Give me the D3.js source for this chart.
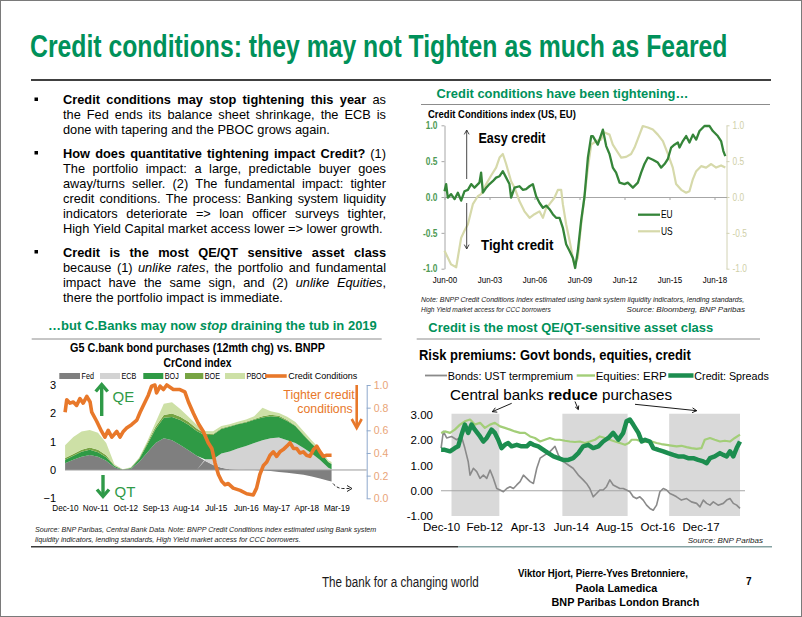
<!DOCTYPE html>
<html><head><meta charset="utf-8">
<script src="https://cdn.jsdelivr.net/npm/d3@7"></script>
<style>
body{margin:0;background:#fff}
svg{display:block}
text{font-family:"Liberation Sans",Arial,sans-serif}
</style></head><body>
<svg id="c" width="802" height="617"></svg>
<script>
// ================= DATA =================
// Left text
const bulletParas = [
  ["*Credit conditions may stop tightening this year* as",
   "the Fed ends its balance sheet shrinkage, the ECB is",
   "done with tapering and the PBOC grows again."],
  ["*How does quantitative tightening impact Credit?* (1)",
   "The portfolio impact: a large, predictable buyer goes",
   "away/turns seller. (2) The fundamental impact: tighter",
   "credit conditions. The process: Banking system liquidity",
   "indicators deteriorate => loan officer surveys tighter,",
   "High Yield Capital market access lower => lower growth."],
  ["*Credit is the most QE/QT sensitive asset class*",
   "because (1) _unlike rates_, the portfolio and fundamental",
   "impact have the same sign, and (2) _unlike Equities_,",
   "there the portfolio impact is immediate."]
];

// Top-right: Credit Conditions index (US, EU)
const trTickLabels = ["Jun-00","Jun-03","Jun-06","Jun-09","Jun-12","Jun-15","Jun-18"];
const trTickYears = [2000.5,2003.5,2006.5,2009.5,2012.5,2015.5,2018.5];
const trYTicks = [-1,-0.5,0,0.5,1];
const usSeries = [[2000.5,-0.75],[2000.94,-0.94],[2001.28,-0.98],[2001.61,-0.57],[2001.83,-0.47],[2002.06,-0.38],[2002.39,-0.10],[2002.72,0.01],[2002.94,0.04],[2003.28,0.18],[2003.61,0.30],[2003.94,0.41],[2004.17,0.55],[2004.39,0.60],[2004.61,0.46],[2004.94,0.22],[2005.17,0.13],[2005.5,-0.06],[2005.83,-0.20],[2006.17,-0.29],[2006.5,-0.24],[2006.83,-0.20],[2007.06,-0.29],[2007.28,-0.15],[2007.5,-0.10],[2007.83,-0.01],[2008.06,0.10],[2008.28,0.10],[2008.39,-0.10],[2008.61,-0.38],[2008.83,-0.60],[2009.06,-0.85],[2009.17,-0.94],[2009.39,-0.85],[2009.61,-0.38],[2009.83,0.00],[2010.06,0.41],[2010.28,0.73],[2010.61,0.78],[2010.94,0.80],[2011.17,0.90],[2011.5,0.87],[2011.72,0.73],[2012.06,0.62],[2012.28,0.55],[2012.61,0.56],[2012.94,0.60],[2013.17,0.69],[2013.5,0.87],[2013.72,0.99],[2014.06,0.97],[2014.39,0.94],[2014.72,0.87],[2015.06,0.78],[2015.39,0.60],[2015.72,0.41],[2015.94,0.18],[2016.28,0.10],[2016.61,0.06],[2016.83,0.08],[2017.06,0.25],[2017.28,0.36],[2017.61,0.43],[2017.94,0.41],[2018.28,0.46],[2018.61,0.41],[2018.94,0.44],[2019.22,0.41]];
const euSeries = [[2000.5,0.08],[2000.61,0.18],[2000.72,-0.01],[2000.94,0.04],[2001.17,-0.03],[2001.39,0.06],[2001.61,-0.05],[2001.83,0.08],[2002.06,0.10],[2002.28,0.18],[2002.5,0.13],[2002.83,0.20],[2002.94,0.34],[2003.06,0.06],[2003.28,0.13],[2003.5,0.18],[2003.72,0.22],[2003.94,0.27],[2004.17,0.29],[2004.39,0.36],[2004.61,0.27],[2004.83,0.18],[2004.94,-0.01],[2005.17,0.13],[2005.5,0.15],[2005.72,0.10],[2005.94,0.11],[2006.17,0.15],[2006.39,0.18],[2006.61,0.01],[2006.83,-0.08],[2007.06,-0.15],[2007.28,-0.12],[2007.5,-0.17],[2007.72,-0.24],[2007.94,-0.29],[2008.17,-0.29],[2008.39,-0.43],[2008.61,-0.66],[2008.83,-0.75],[2009.06,-0.85],[2009.21,-0.99],[2009.39,-0.75],[2009.61,-0.33],[2009.83,0.00],[2010.06,0.55],[2010.28,0.85],[2010.39,0.85],[2010.72,0.73],[2011.06,0.94],[2011.28,0.71],[2011.5,0.60],[2011.72,0.41],[2011.94,0.34],[2012.17,0.20],[2012.5,0.18],[2012.72,0.20],[2013.06,0.13],[2013.39,0.20],[2013.61,0.34],[2013.83,0.46],[2014.06,0.55],[2014.39,0.52],[2014.72,0.48],[2014.94,0.41],[2015.17,0.46],[2015.39,0.53],[2015.61,0.69],[2015.83,0.73],[2016.06,0.76],[2016.17,0.69],[2016.39,0.78],[2016.61,0.85],[2016.83,0.76],[2017.06,0.87],[2017.28,0.80],[2017.5,0.92],[2017.83,0.99],[2018.17,0.99],[2018.39,0.92],[2018.72,0.85],[2018.94,0.78],[2019.09,0.64],[2019.22,0.57]];

// Bottom-left: G5 central bank bond purchases vs CrCond index
const blTickLabels = ["Dec-10","Nov-11","Oct-12","Sep-13","Aug-14","Jul-15","Jun-16","May-17","Apr-18","Mar-19"];
const blTickYears = [2010.917,2011.833,2012.75,2013.667,2014.583,2015.5,2016.417,2017.333,2018.25,2019.167];
const blLeftTicks = [-1,0,1,2,3];
const blRightTicks = [0,0.2,0.4,0.6,0.8,1.0];
const cbKeys = ["Fed","ECB","BOJ","BOE","PBOC"];
const cbYears = [2010.92,2011.17,2011.42,2011.67,2011.92,2012.17,2012.42,2012.67,2012.92,2013.17,2013.42,2013.67,2013.92,2014.17,2014.42,2014.67,2014.92,2015.17,2015.42,2015.67,2015.92,2016.17,2016.42,2016.67,2016.92,2017.17,2017.42,2017.67,2017.92,2018.17,2018.42,2018.67,2018.92,2019.02];
const fedVals  = [0.24,0.36,0.47,0.53,0.47,0.33,0.10,0.00,0.04,0.28,0.62,0.95,1.12,1.05,0.88,0.70,0.50,0.33,0.18,0.08,0.03,0.01,0.00,0.00,-0.02,-0.04,-0.07,-0.10,-0.13,-0.17,-0.23,-0.30,-0.38,-0.41];
const ecbVals  = [0,0,0,0,0,0,0,0,0,0,0,0,0,0,0,0,0,0.05,0.20,0.50,0.62,0.75,0.85,0.95,1.05,1.12,1.15,1.05,0.95,0.78,0.58,0.35,0.08,0.03];
const bojVals  = [0.12,0.14,0.17,0.18,0.16,0.12,0.04,0.01,0.03,0.10,0.28,0.50,0.72,0.82,0.88,0.90,0.88,0.85,0.86,0.87,0.88,0.85,0.83,0.82,0.80,0.78,0.72,0.68,0.60,0.45,0.35,0.30,0.20,0.18];
const boeVals  = [0.06,0.06,0.07,0.08,0.08,0.07,0.02,0.01,0.01,0.03,0.06,0.08,0.10,0.12,0.12,0.10,0.08,0.05,0.03,0.02,0.02,0.02,0.02,0.03,0.05,0.05,0.04,0.03,0.02,0.02,0.01,0.01,0.01,0.01];
const pbocVals = [0.45,0.60,0.65,0.62,0.60,0.43,0.04,0.01,0.02,0.02,0.06,0.15,0.40,0.40,0.27,0.18,0.14,0.10,0.10,0.08,0.06,0.07,0.08,0.10,0.30,0.12,0.10,0.12,0.12,0.12,0.10,0.08,0.05,0.06];
const crCondSeries = [[2010.92,0.76],[2010.97,0.87],[2011.07,0.84],[2011.17,0.85],[2011.27,0.82],[2011.37,0.88],[2011.47,0.84],[2011.58,0.90],[2011.68,0.85],[2011.73,0.76],[2011.88,0.68],[2012.03,0.59],[2012.13,0.54],[2012.23,0.60],[2012.34,0.54],[2012.49,0.59],[2012.59,0.54],[2012.69,0.59],[2012.79,0.62],[2012.94,0.65],[2013.10,0.69],[2013.20,0.76],[2013.35,0.85],[2013.45,0.91],[2013.55,0.99],[2013.65,1.00],[2013.70,0.93],[2013.81,0.99],[2013.91,0.96],[2014.01,1.00],[2014.21,0.96],[2014.41,0.96],[2014.56,0.94],[2014.67,0.85],[2014.82,0.75],[2014.97,0.66],[2015.12,0.59],[2015.27,0.49],[2015.38,0.44],[2015.48,0.31],[2015.58,0.21],[2015.68,0.15],[2015.78,0.12],[2015.88,0.13],[2016.03,0.09],[2016.24,0.07],[2016.44,0.04],[2016.64,0.03],[2016.74,0.09],[2016.84,0.21],[2016.95,0.29],[2017.05,0.32],[2017.15,0.38],[2017.25,0.41],[2017.35,0.37],[2017.45,0.41],[2017.55,0.43],[2017.66,0.46],[2017.76,0.49],[2017.86,0.44],[2017.96,0.44],[2018.06,0.40],[2018.16,0.41],[2018.26,0.38],[2018.36,0.37],[2018.47,0.43],[2018.57,0.46],[2018.67,0.41],[2018.77,0.37],[2018.87,0.38],[2019.02,0.38]];

// Bottom-right: risk premiums
const brTickLabels = ["Dec-10","Feb-12","Apr-13","Jun-14","Aug-15","Oct-16","Dec-17"];
const brTickYears = [2010.917,2012.083,2013.25,2014.417,2015.583,2016.75,2017.917];
const brYTicks = [-1,0,1,2,3];
const reduceSpans = [[2011.2,2012.49],[2014.19,2015.95],[2017.07,2018.98]];
const bondSeries = [[2010.92,1.69],[2010.98,2.35],[2011.07,2.09],[2011.20,2.15],[2011.34,2.02],[2011.47,2.15],[2011.56,1.69],[2011.65,1.16],[2011.70,0.62],[2011.79,0.89],[2011.88,0.76],[2011.97,0.49],[2012.06,0.62],[2012.15,0.49],[2012.24,0.82],[2012.33,0.49],[2012.42,0.09],[2012.51,0.03],[2012.60,-0.04],[2012.69,0.09],[2012.78,0.16],[2012.87,0.09],[2012.96,0.23],[2013.05,0.36],[2013.14,0.62],[2013.23,0.49],[2013.32,0.36],[2013.41,0.29],[2013.50,0.89],[2013.59,1.29],[2013.72,1.42],[2013.81,1.49],[2013.90,1.62],[2013.99,1.76],[2014.08,1.42],[2014.21,1.16],[2014.35,1.02],[2014.48,0.89],[2014.62,0.62],[2014.75,0.43],[2014.84,0.29],[2014.93,0.09],[2015.02,-0.24],[2015.11,-0.11],[2015.20,0.03],[2015.29,0.03],[2015.38,0.16],[2015.47,0.43],[2015.56,0.23],[2015.65,0.16],[2015.74,0.09],[2015.83,0.09],[2015.92,0.03],[2016.01,-0.04],[2016.10,-0.24],[2016.19,-0.31],[2016.28,-0.24],[2016.37,-0.37],[2016.46,-0.57],[2016.55,-0.70],[2016.64,-0.77],[2016.73,-0.57],[2016.82,-0.04],[2016.91,0.09],[2017.00,0.03],[2017.09,-0.11],[2017.18,-0.17],[2017.27,-0.24],[2017.40,-0.37],[2017.54,-0.31],[2017.67,-0.44],[2017.81,-0.50],[2017.90,-0.64],[2017.99,-0.37],[2018.08,-0.50],[2018.17,-0.57],[2018.26,-0.44],[2018.39,-0.57],[2018.53,-0.50],[2018.62,-0.37],[2018.71,-0.31],[2018.80,-0.50],[2018.89,-0.57],[2018.98,-0.70]];
const erpSeries = [[2010.92,2.29],[2011.02,2.35],[2011.16,2.29],[2011.29,2.42],[2011.43,2.62],[2011.56,2.75],[2011.70,2.82],[2011.83,2.62],[2011.97,2.69],[2012.10,2.49],[2012.24,2.62],[2012.37,2.69],[2012.51,2.55],[2012.64,2.49],[2012.78,2.42],[2012.91,2.35],[2013.05,2.29],[2013.18,2.29],[2013.32,2.15],[2013.45,2.09],[2013.59,1.95],[2013.72,2.02],[2013.85,2.09],[2013.99,2.02],[2014.12,2.02],[2014.26,1.98],[2014.39,1.95],[2014.53,1.93],[2014.66,1.95],[2014.80,1.89],[2014.93,1.95],[2015.07,2.02],[2015.20,2.15],[2015.34,2.09],[2015.47,2.02],[2015.61,1.95],[2015.74,1.89],[2015.88,1.82],[2015.98,1.89],[2016.06,2.02],[2016.19,2.02],[2016.33,1.95],[2016.46,1.93],[2016.60,1.95],[2016.73,1.89],[2016.86,1.85],[2017.00,1.82],[2017.13,1.79],[2017.27,1.76],[2017.40,1.78],[2017.54,1.73],[2017.67,1.69],[2017.81,1.66],[2017.94,1.69],[2018.03,2.02],[2018.17,2.09],[2018.30,2.02],[2018.44,1.95],[2018.57,1.98],[2018.71,1.95],[2018.84,2.09],[2018.98,2.22]];
const spreadSeries = [[2010.92,1.62],[2011.02,1.62],[2011.16,1.56],[2011.29,1.69],[2011.38,1.76],[2011.47,2.22],[2011.56,2.62],[2011.65,2.29],[2011.74,2.62],[2011.83,2.42],[2011.97,2.15],[2012.06,1.95],[2012.15,2.09],[2012.28,2.42],[2012.37,2.29],[2012.46,2.02],[2012.55,1.69],[2012.64,1.82],[2012.73,1.89],[2012.82,1.76],[2012.96,1.82],[2013.09,1.76],[2013.23,1.76],[2013.32,1.89],[2013.41,1.82],[2013.54,1.76],[2013.68,1.62],[2013.81,1.49],[2013.95,1.36],[2014.08,1.29],[2014.21,1.22],[2014.35,1.22],[2014.48,1.29],[2014.62,1.49],[2014.75,1.76],[2014.89,1.82],[2015.02,1.69],[2015.16,1.76],[2015.29,1.95],[2015.43,2.09],[2015.56,2.29],[2015.70,2.02],[2015.83,2.29],[2015.92,2.75],[2016.01,2.82],[2016.10,2.62],[2016.24,2.29],[2016.33,1.95],[2016.42,2.02],[2016.55,1.95],[2016.64,1.69],[2016.78,1.62],[2016.91,1.56],[2017.04,1.49],[2017.18,1.42],[2017.31,1.36],[2017.45,1.36],[2017.58,1.29],[2017.72,1.29],[2017.85,1.22],[2017.99,1.16],[2018.08,1.09],[2018.17,1.29],[2018.30,1.36],[2018.44,1.49],[2018.53,1.42],[2018.62,1.36],[2018.71,1.56],[2018.80,1.36],[2018.89,1.69],[2018.98,1.95]];

// ================= DRAWING =================
const W = 802, H = 617;
const GREEN = "#00915a";
const svg = d3.select("#c");
svg.append("rect").attr("width", W).attr("height", H).attr("fill", "#fff");
svg.append("rect").attr("x", 0.5).attr("y", 0.5).attr("width", W - 1).attr("height", H - 1)
  .attr("fill", "none").attr("stroke", "#7a7a7a");

// text helper: when o.len is given, the text is scaled horizontally to that width
function txt(g, x, y, s, o = {}) {
  let host = g, tx = x, ty = y;
  if (o.len) { host = g.append("g").attr("transform", `translate(${x},${y})`); tx = 0; ty = 0; }
  const t = host.append("text").attr("x", tx).attr("y", ty).text(s)
    .attr("font-size", o.size || 10).attr("fill", o.fill || "#000")
    .attr("font-weight", o.bold ? "bold" : "normal")
    .attr("font-style", o.italic ? "italic" : "normal")
    .attr("text-anchor", o.anchor || "start");
  if (o.len) {
    const w = t.node().getComputedTextLength();
    host.attr("transform", `translate(${x},${y}) scale(${o.len / w},1)`);
  }
  return t;
}
function ntxt(g, x, y, s, o = {}) {
  const gg = g.append("g").attr("transform", `translate(${x},${y}) scale(${o.sx || 0.84},1)`);
  return txt(gg, 0, 0, s, o);
}
function narrowTicks(g, sx) {
  g.selectAll("text").each(function () {
    const t = d3.select(this); const x = +t.attr("x") || 0;
    t.attr("x", x / sx).attr("transform", `scale(${sx},1)`);
  });
}
function hline(g, x1, x2, y, c, w) {
  g.append("line").attr("x1", x1).attr("x2", x2).attr("y1", y).attr("y2", y).attr("stroke", c).attr("stroke-width", w || 1);
}
function thinArrow(g, x1, y1, x2, y2, head, color, w) {
  head = head || 5; color = color || "#000"; w = w || 0.9;
  g.append("line").attr("x1", x1).attr("y1", y1).attr("x2", x2).attr("y2", y2).attr("stroke", color).attr("stroke-width", w);
  const a = Math.atan2(y2 - y1, x2 - x1);
  const p = [[x2 - head * Math.cos(a - 0.5), y2 - head * Math.sin(a - 0.5)], [x2, y2], [x2 - head * Math.cos(a + 0.5), y2 - head * Math.sin(a + 0.5)]];
  g.append("path").attr("d", d3.line()(p)).attr("fill", "none").attr("stroke", color).attr("stroke-width", w);
}
function chevArrow(g, x, yTail, yTip, color, w, hw, hl) {
  const dir = yTip > yTail ? 1 : -1;
  g.append("line").attr("x1", x).attr("x2", x).attr("y1", yTail).attr("y2", yTip - dir * 1).attr("stroke", color).attr("stroke-width", w);
  g.append("path").attr("d", `M${x - hw},${yTip - dir * hl}L${x},${yTip}L${x + hw},${yTip - dir * hl}`)
    .attr("fill", "none").attr("stroke", color).attr("stroke-width", w).attr("stroke-linejoin", "miter");
}

// ---- Title ----
txt(svg, 30, 57, "Credit conditions: they may not Tighten as much as Feared", { size: 31, bold: true, fill: GREEN, len: 698 });
hline(svg, 31, 771, 80, "#000", 1.6);

// ---- Bullet paragraphs (justified) ----
function parseWords(line) {
  const words = []; let cur = null;
  (line.match(/(\*[^*]+\*|_[^_]+_|[^*_]+)/g) || []).forEach(run => {
    let st = "";
    if (run[0] === "*") { st = "b"; run = run.slice(1, -1); }
    else if (run[0] === "_") { st = "i"; run = run.slice(1, -1); }
    run.split(" ").forEach((p, k) => {
      if (k > 0) cur = null;
      if (p === "") return;
      if (!cur) { cur = []; words.push(cur); }
      cur.push({ t: p, st });
    });
  });
  return words;
}
function drawLine(g, x0, y, Wd, line, just, size) {
  const words = parseWords(line);
  const els = words.map(w => {
    const t = g.append("text").attr("y", y).attr("font-size", size).attr("fill", "#000");
    w.forEach(s => t.append("tspan").text(s.t)
      .attr("font-weight", s.st === "b" ? "bold" : "normal")
      .attr("font-style", s.st === "i" ? "italic" : "normal"));
    return t;
  });
  const widths = els.map(e => e.node().getComputedTextLength());
  const sum = d3.sum(widths);
  const gap = just && els.length > 1 ? (Wd - sum) / (els.length - 1) : size * 0.278;
  let x = x0;
  els.forEach((e, i) => { e.attr("x", x); x += widths[i] + gap; });
}
const textG = svg.append("g");
const paraStarts = [104, 157.5, 256.5];
bulletParas.forEach((para, pi) => {
  const y0 = paraStarts[pi];
  textG.append("rect").attr("x", 34.5).attr("y", y0 - 6.5).attr("width", 3.5).attr("height", 3.5).attr("fill", "#000");
  para.forEach((line, li) => {
    drawLine(textG, 63, y0 + li * 15, 323, line, li < para.length - 1, 12.8);
  });
});

// ================= TOP-RIGHT CHART =================
const tr = svg.append("g");
txt(tr, 436.5, 98, "Credit conditions have been tightening…", { size: 13, bold: true, fill: GREEN, len: 252 });
hline(tr, 421, 770, 104.5, "#8c8c8c", 1);
txt(tr, 428, 117.5, "Credit Conditions index (US, EU)", { size: 11.5, bold: true, len: 148 });

const trX = d3.scaleLinear().domain([2000.5, 2019.3]).range([444.5, 726.5]);
const trY = d3.scaleLinear().domain([-1, 1]).range([268.7, 125.3]);

const trL = tr.append("g").attr("transform", `translate(${trX.range()[0]},0)`)
  .call(d3.axisLeft(trY).tickValues(trYTicks).tickFormat(d => d.toFixed(1)).tickSize(3).tickPadding(4).tickSizeOuter(0));
trL.select(".domain").attr("stroke", "#a6a6a6");
trL.selectAll(".tick line").attr("stroke", "#a6a6a6");
trL.selectAll("text").attr("font-size", 10).attr("font-weight", "bold").attr("fill", "#4e9a55").attr("font-family", "Liberation Sans, Arial");
narrowTicks(trL, 0.84);
const trR = tr.append("g").attr("transform", `translate(${trX.range()[1]},0)`)
  .call(d3.axisRight(trY).tickValues(trYTicks).tickFormat(d => d.toFixed(1)).tickSize(3).tickPadding(3).tickSizeOuter(0));
trR.select(".domain").attr("stroke", "#d2d2b4");
trR.selectAll(".tick line").attr("stroke", "#d2d2b4");
trR.selectAll("text").attr("font-size", 10).attr("fill", "#cfcfa8").attr("font-family", "Liberation Sans, Arial");
narrowTicks(trR, 0.84);
const trZ = tr.append("g").attr("transform", `translate(0,${trY(0)})`)
  .call(d3.axisBottom(trX).tickValues(trTickYears).tickFormat("").tickSize(3).tickSizeOuter(0));
trZ.select(".domain").attr("stroke", "#a6a6a6");
trZ.selectAll(".tick line").attr("stroke", "#a6a6a6");
const trB = tr.append("g").attr("transform", `translate(0,${trY(-1)})`)
  .call(d3.axisBottom(trX).tickValues(trTickYears).tickFormat((d, i) => trTickLabels[i]).tickSize(0).tickPadding(8));
trB.select(".domain").remove();
trB.selectAll("text").attr("font-size", 9.5).attr("fill", "#000").attr("font-family", "Liberation Sans, Arial");
narrowTicks(trB, 0.84);

const trLine = d3.line().x(d => trX(d[0])).y(d => trY(d[1]));
tr.append("path").datum(usSeries).attr("d", trLine).attr("fill", "none").attr("stroke", "#d6d9aa").attr("stroke-width", 2.2).attr("stroke-linejoin", "round");
tr.append("path").datum(euSeries).attr("d", trLine).attr("fill", "none").attr("stroke", "#358539").attr("stroke-width", 2.3).attr("stroke-linejoin", "round");

hline(tr, 638, 660, 214.7, "#358539", 2.3);
ntxt(tr, 661, 218.2, "EU", { size: 10 });
hline(tr, 638, 660, 231.3, "#d6d9aa", 2.2);
ntxt(tr, 661, 234.8, "US", { size: 10 });

txt(tr, 478.5, 143, "Easy credit", { size: 15, bold: true, len: 67 });
txt(tr, 481, 249.5, "Tight credit", { size: 15, bold: true, len: 72.5 });
thinArrow(tr, 466.7, 179, 466.7, 130, 5, "#333", 0.9);
thinArrow(tr, 466.7, 203, 466.7, 249, 5, "#333", 0.9);

txt(tr, 421, 302, "Note: BNPP Credit Conditions index estimated using bank system liquidity indicators, lending standards,", { size: 8, italic: true, fill: "#222", len: 324 });
txt(tr, 421, 312, "High Yield market access for CCC borrowers", { size: 8, italic: true, fill: "#222", len: 130 });
txt(tr, 745, 312, "Source: Bloomberg, BNP Paribas", { size: 8, italic: true, fill: "#222", anchor: "end" });

// ================= BOTTOM-LEFT CHART =================
const bl = svg.append("g");
const blHeadG = bl.append("g").attr("transform", "translate(48,330)");
const blHead = blHeadG.append("text").attr("x", 0).attr("y", 0).attr("font-size", 13).attr("font-weight", "bold").attr("fill", GREEN);
blHead.append("tspan").text("…but C.Banks may now ");
blHead.append("tspan").text("stop").attr("font-style", "italic");
blHead.append("tspan").text(" draining the tub in 2019");
blHeadG.attr("transform", `translate(48,330) scale(${329 / blHead.node().getComputedTextLength()},1)`);
hline(bl, 31.7, 381.7, 339, "#8c8c8c", 1);
txt(bl, 197.5, 352.3, "G5 C.bank bond purchases (12mth chg) vs. BNPP", { size: 13.5, bold: true, anchor: "middle", len: 255 });
txt(bl, 197.5, 366.7, "CrCond index", { size: 13.5, bold: true, anchor: "middle", len: 68 });

const blX = d3.scaleLinear().domain([2010.917, 2019.167]).range([65, 336.4]);
const blY = d3.scaleLinear().domain([-1, 3]).range([498.3, 385]);
const blY2 = d3.scaleLinear().domain([0, 1]).range([498.3, 385]);
const cbColors = { Fed: "#7f7f7f", ECB: "#d3d3d3", BOJ: "#2f9a45", BOE: "#77a443", PBOC: "#cde0a6" };

const cbRows = cbYears.map((y, i) => ({ year: y, Fed: fedVals[i], ECB: ecbVals[i], BOJ: bojVals[i], BOE: boeVals[i], PBOC: pbocVals[i] }));
const stacked = d3.stack().keys(cbKeys).offset(d3.stackOffsetDiverging)(cbRows);
const blArea = d3.area().x(d => blX(d.data.year)).y0(d => blY(d[0])).y1(d => blY(d[1]));
bl.selectAll("path.cb").data(stacked).enter().append("path").attr("class", "cb")
  .attr("d", blArea).attr("fill", d => cbColors[d.key]);

const blZ = bl.append("g").attr("transform", `translate(0,${blY(0)})`)
  .call(d3.axisBottom(blX).tickValues([]).tickSize(0).tickSizeOuter(0));
blZ.select(".domain").attr("stroke", "#9a9a9a").attr("d", `M${blX.range()[0]},0H366.7`);
const blL = bl.append("g").attr("transform", `translate(${blX.range()[0]},0)`)
  .call(d3.axisLeft(blY).tickValues(blLeftTicks).tickFormat(d3.format("d")).tickSize(0).tickPadding(9));
blL.select(".domain").remove();
blL.selectAll("text").attr("font-size", 11).attr("fill", "#000").attr("font-family", "Liberation Sans, Arial");
const blR = bl.append("g").attr("transform", "translate(366.7,0)")
  .call(d3.axisRight(blY2).tickValues(blRightTicks).tickFormat(d => d.toFixed(1)).tickSize(4).tickPadding(3).tickSizeOuter(0));
blR.select(".domain").attr("stroke", "#8fa9cc");
blR.selectAll(".tick line").attr("stroke", "#8fa9cc");
blR.selectAll("text").attr("font-size", 10.5).attr("fill", "#e9a477").attr("font-family", "Liberation Sans, Arial");
const blB = bl.append("g").attr("transform", `translate(0,${blY(-1)})`)
  .call(d3.axisBottom(blX).tickValues(blTickYears).tickFormat((d, i) => blTickLabels[i]).tickSize(0).tickPadding(5.5));
blB.select(".domain").remove();
blB.selectAll("text").attr("font-size", 9.5).attr("fill", "#000").attr("font-family", "Liberation Sans, Arial");
narrowTicks(blB, 0.86);

bl.append("path").datum(crCondSeries)
  .attr("d", d3.line().x(d => blX(d[0])).y(d => blY2(d[1])))
  .attr("fill", "none").attr("stroke", "#e8782a").attr("stroke-width", 3.6).attr("stroke-linejoin", "round");

// legend
const legSw = [[59.3, 80, "Fed"], [100, 120, "ECB"], [143.3, 163.3, "BOJ"], [185, 203.3, "BOE"], [225, 245, "PBOC"]];
legSw.forEach(s => {
  bl.append("rect").attr("x", s[0]).attr("y", 373).attr("width", s[1] - s[0]).attr("height", 6).attr("fill", cbColors[s[2]]);
  ntxt(bl, s[1] + 1.5, 379.3, s[2], { size: 9, sx: 0.8 });
});
hline(bl, 265, 286.7, 376, "#e8782a", 3.6);
txt(bl, 288.3, 379.3, "Credit Conditions", { size: 9 });

// annotations
chevArrow(bl, 101.7, 416, 384.5, "#2f9a48", 3.4, 6, 7);
txt(bl, 112.5, 401.5, "QE", { size: 15, fill: "#2f9a48" });
chevArrow(bl, 103, 475, 496.5, "#2f9a48", 3.4, 6, 7);
txt(bl, 114.5, 496.5, "QT", { size: 15, fill: "#2f9a48" });
txt(bl, 319, 399, "Tighter credit", { size: 12.3, fill: "#e8782a", anchor: "middle" });
txt(bl, 325, 412.5, "conditions", { size: 12.3, fill: "#e8782a", anchor: "middle" });
chevArrow(bl, 356.7, 385, 428, "#e8782a", 2.6, 5, 9);
bl.append("path").attr("d", "M333,483.5 q4,5 10,5 l8,0").attr("fill", "none").attr("stroke", "#222").attr("stroke-width", 1).attr("stroke-dasharray", "3,2");
bl.append("path").attr("d", "M347,485.5 L352,488.5 L347,491.5").attr("fill", "none").attr("stroke", "#222").attr("stroke-width", 1);

txt(bl, 35, 531.5, "Source: BNP Paribas, Central Bank Data. Note: BNPP Credit Conditions index estimated using Bank system", { size: 8, italic: true, fill: "#222", len: 342 });
txt(bl, 35, 541.5, "liquidity indicators, lending standards, High Yield market access for CCC borrowers.", { size: 8, italic: true, fill: "#222", len: 266 });

// ================= BOTTOM-RIGHT CHART =================
const br = svg.append("g");
txt(br, 428.3, 332, "Credit is the most QE/QT-sensitive asset class", { size: 13, bold: true, fill: GREEN, len: 285 });
hline(br, 416.7, 760, 339, "#8c8c8c", 1);
txt(br, 419, 359.5, "Risk premiums: Govt bonds, equities, credit", { size: 14.5, bold: true, len: 272 });

const brX = d3.scaleLinear().domain([2010.917, 2018.98]).range([441, 740]);
const brY = d3.scaleLinear().domain([-1, 3]).range([516, 415]);

br.selectAll("rect.span").data(reduceSpans).enter().append("rect").attr("class", "span")
  .attr("x", d => brX(d[0])).attr("width", d => brX(d[1]) - brX(d[0]))
  .attr("y", brY(3.05)).attr("height", brY(-1.0) - brY(3.05)).attr("fill", "#d9d9d9");

const brZ = br.append("g").attr("transform", `translate(0,${brY(0)})`)
  .call(d3.axisBottom(brX).tickValues([]).tickSize(0).tickSizeOuter(0));
brZ.select(".domain").attr("stroke", "#a6a6a6").attr("d", `M${brX.range()[0]},0H745`);

const brL = br.append("g").attr("transform", `translate(${brX.range()[0]},0)`)
  .call(d3.axisLeft(brY).tickValues(brYTicks).tickFormat(d => d.toFixed(2)).tickSize(0).tickPadding(8));
brL.select(".domain").remove();
brL.selectAll("text").attr("font-size", 11.5).attr("fill", "#000").attr("font-family", "Liberation Sans, Arial");
const brB = br.append("g").attr("transform", `translate(0,${brY(-1)})`)
  .call(d3.axisBottom(brX).tickValues(brTickYears).tickFormat((d, i) => brTickLabels[i]).tickSize(0).tickPadding(7.3));
brB.select(".domain").remove();
brB.selectAll("text").attr("font-size", 11.5).attr("fill", "#000").attr("font-family", "Liberation Sans, Arial");

const brLine = d3.line().x(d => brX(d[0])).y(d => brY(d[1]));
br.append("path").datum(bondSeries).attr("d", brLine).attr("fill", "none").attr("stroke", "#8a8a8a").attr("stroke-width", 1.6).attr("stroke-linejoin", "round");
br.append("path").datum(erpSeries).attr("d", brLine).attr("fill", "none").attr("stroke", "#a3ce78").attr("stroke-width", 2.2).attr("stroke-linejoin", "round");
br.append("path").datum(spreadSeries).attr("d", brLine).attr("fill", "none").attr("stroke", "#1c8d4f").attr("stroke-width", 4.5).attr("stroke-linejoin", "round");

hline(br, 425, 447, 375.5, "#8a8a8a", 1.8);
txt(br, 447.7, 379.5, "Bonds: UST termpremium", { size: 11, len: 125.5 });
hline(br, 576.7, 595, 375.5, "#a3ce78", 2.4);
txt(br, 595.7, 379.5, "Equities: ERP", { size: 11, len: 71 });
hline(br, 668.3, 693.5, 375.5, "#1c8d4f", 4.5);
txt(br, 694.3, 379.5, "Credit: Spreads", { size: 11, len: 74.7 });

const ann = br.append("text").attr("x", 450).attr("y", 400).attr("font-size", 15.2).attr("fill", "#000");
ann.append("tspan").text("Central banks ");
ann.append("tspan").text("reduce").attr("font-weight", "bold");
ann.append("tspan").text(" purchases");
thinArrow(br, 511.7, 403.3, 492.3, 411.7, 5, "#000", 0.9);
thinArrow(br, 575, 401.5, 578.3, 409.5, 4, "#000", 0.9);
thinArrow(br, 635, 404.3, 696.7, 410.7, 5, "#000", 0.9);

txt(br, 763, 542.5, "Source: BNP Paribas", { size: 8, italic: true, fill: "#222", anchor: "end" });

hline(svg, 31, 458, 546.8, "#3a3a3a", 1.6);
hline(svg, 458, 772, 546.8, "#86a3a3", 1.6);

// ================= FOOTER =================
txt(svg, 322, 586.5, "The bank for a changing world", { size: 15, fill: "#1a1a1a", len: 157 });
txt(svg, 518, 577, "Viktor Hjort, Pierre-Yves Bretonniere,", { size: 11.5, bold: true, len: 170 });
txt(svg, 575.5, 591.5, "Paola Lamedica", { size: 11.5, bold: true, len: 82 });
txt(svg, 551.5, 605.5, "BNP Paribas London Branch", { size: 11.5, bold: true, len: 148 });
txt(svg, 746, 585, "7", { size: 10, bold: true });
</script></body></html>
